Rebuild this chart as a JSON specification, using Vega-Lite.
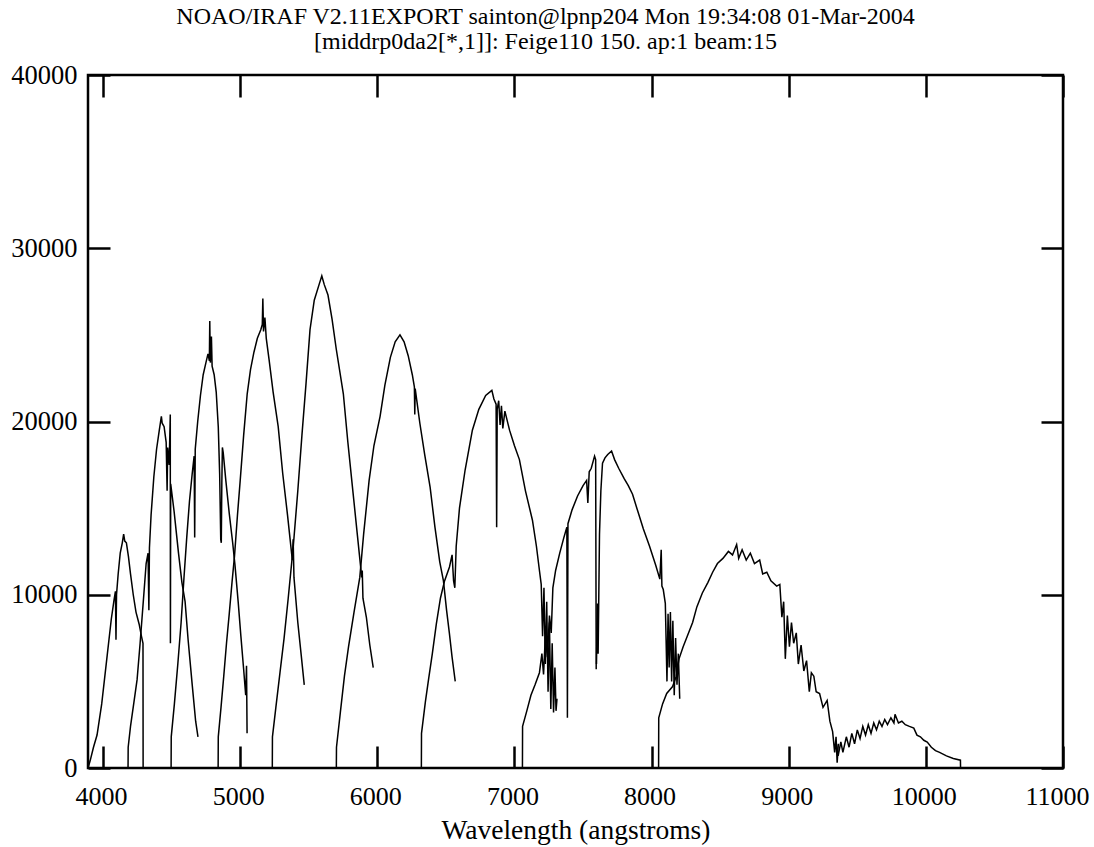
{
"$schema": "https://vega.github.io/schema/vega-lite/v6.json",
"width": 975, "height": 693,
"autosize": "none",
"padding": {"left": 88, "top": 75, "right": 31, "bottom": 79},
"background": "white",
"config": {"view": {"stroke": "black", "strokeWidth": 2.5}, "font": "Liberation Serif"},
"title": {"text": ["NOAO/IRAF V2.11EXPORT sainton@lpnp204 Mon 19:34:08 01-Mar-2004", "[middrp0da2[*,1]]: Feige110 150. ap:1 beam:15"], "font": "Liberation Serif", "fontSize": 24, "fontWeight": "normal", "lineHeight": 25, "offset": 8, "dx": -30, "color": "black"},
"datasets": {"spec": [
{"order":1,"wavelength":3890,"flux":0},{"order":1,"wavelength":3905,"flux":400},{"order":1,"wavelength":3930,"flux":1200},{"order":1,"wavelength":3956,"flux":1900},{"order":1,"wavelength":3990,"flux":3700},{"order":1,"wavelength":4030,"flux":6500},{"order":1,"wavelength":4060,"flux":8600},{"order":1,"wavelength":4080,"flux":9700},{"order":1,"wavelength":4090,"flux":10200},{"order":1,"wavelength":4094,"flux":7400},{"order":1,"wavelength":4098,"flux":10000},{"order":1,"wavelength":4110,"flux":11200},{"order":1,"wavelength":4125,"flux":12400},{"order":1,"wavelength":4140,"flux":13000},{"order":1,"wavelength":4150,"flux":13500},{"order":1,"wavelength":4158,"flux":13100},{"order":1,"wavelength":4170,"flux":13000},{"order":1,"wavelength":4185,"flux":12200},{"order":1,"wavelength":4200,"flux":11200},{"order":1,"wavelength":4220,"flux":10000},{"order":1,"wavelength":4240,"flux":9000},{"order":1,"wavelength":4263,"flux":8300},{"order":1,"wavelength":4280,"flux":7600},{"order":1,"wavelength":4291,"flux":7200},{"order":1,"wavelength":4292,"flux":0},
{"order":2,"wavelength":4182,"flux":0},{"order":2,"wavelength":4183,"flux":1200},{"order":2,"wavelength":4200,"flux":2400},{"order":2,"wavelength":4225,"flux":3800},{"order":2,"wavelength":4248,"flux":5100},{"order":2,"wavelength":4270,"flux":7200},{"order":2,"wavelength":4295,"flux":9800},{"order":2,"wavelength":4314,"flux":11800},{"order":2,"wavelength":4328,"flux":12400},{"order":2,"wavelength":4334,"flux":9100},{"order":2,"wavelength":4338,"flux":12700},{"order":2,"wavelength":4350,"flux":14600},{"order":2,"wavelength":4370,"flux":16800},{"order":2,"wavelength":4390,"flux":18400},{"order":2,"wavelength":4410,"flux":19500},{"order":2,"wavelength":4425,"flux":20300},{"order":2,"wavelength":4431,"flux":19900},{"order":2,"wavelength":4445,"flux":19700},{"order":2,"wavelength":4460,"flux":18800},{"order":2,"wavelength":4467,"flux":16000},{"order":2,"wavelength":4471,"flux":18500},{"order":2,"wavelength":4482,"flux":17500},{"order":2,"wavelength":4490,"flux":20400},{"order":2,"wavelength":4491,"flux":7200},{"order":2,"wavelength":4493,"flux":16400},{"order":2,"wavelength":4518,"flux":14800},{"order":2,"wavelength":4550,"flux":12400},{"order":2,"wavelength":4575,"flux":10700},{"order":2,"wavelength":4598,"flux":9600},{"order":2,"wavelength":4620,"flux":7400},{"order":2,"wavelength":4650,"flux":4800},{"order":2,"wavelength":4675,"flux":2700},{"order":2,"wavelength":4692,"flux":1800},
{"order":3,"wavelength":4496,"flux":0},{"order":3,"wavelength":4497,"flux":1800},{"order":3,"wavelength":4520,"flux":3700},{"order":3,"wavelength":4545,"flux":6000},{"order":3,"wavelength":4569,"flux":8400},{"order":3,"wavelength":4590,"flux":11000},{"order":3,"wavelength":4610,"flux":13300},{"order":3,"wavelength":4630,"flux":15400},{"order":3,"wavelength":4650,"flux":17000},{"order":3,"wavelength":4664,"flux":18000},{"order":3,"wavelength":4668,"flux":13300},{"order":3,"wavelength":4672,"flux":18400},{"order":3,"wavelength":4690,"flux":20000},{"order":3,"wavelength":4710,"flux":21500},{"order":3,"wavelength":4730,"flux":22700},{"order":3,"wavelength":4750,"flux":23400},{"order":3,"wavelength":4765,"flux":23900},{"order":3,"wavelength":4775,"flux":23500},{"order":3,"wavelength":4778,"flux":25800},{"order":3,"wavelength":4782,"flux":23400},{"order":3,"wavelength":4790,"flux":24900},{"order":3,"wavelength":4795,"flux":23200},{"order":3,"wavelength":4810,"flux":22700},{"order":3,"wavelength":4825,"flux":21700},{"order":3,"wavelength":4840,"flux":19700},{"order":3,"wavelength":4850,"flux":17000},{"order":3,"wavelength":4858,"flux":13200},{"order":3,"wavelength":4862,"flux":13000},{"order":3,"wavelength":4866,"flux":16500},{"order":3,"wavelength":4870,"flux":18500},{"order":3,"wavelength":4876,"flux":18200},{"order":3,"wavelength":4895,"flux":16600},{"order":3,"wavelength":4920,"flux":14700},{"order":3,"wavelength":4945,"flux":13000},{"order":3,"wavelength":4962,"flux":11700},{"order":3,"wavelength":4985,"flux":9600},{"order":3,"wavelength":5005,"flux":7600},{"order":3,"wavelength":5025,"flux":5700},{"order":3,"wavelength":5040,"flux":4200},{"order":3,"wavelength":5046,"flux":5900},{"order":3,"wavelength":5050,"flux":2000},
{"order":4,"wavelength":4839,"flux":0},{"order":4,"wavelength":4840,"flux":1800},{"order":4,"wavelength":4860,"flux":3500},{"order":4,"wavelength":4880,"flux":5300},{"order":4,"wavelength":4900,"flux":7200},{"order":4,"wavelength":4920,"flux":8900},{"order":4,"wavelength":4940,"flux":10700},{"order":4,"wavelength":4958,"flux":12200},{"order":4,"wavelength":4980,"flux":14600},{"order":4,"wavelength":5000,"flux":16600},{"order":4,"wavelength":5025,"flux":19200},{"order":4,"wavelength":5051,"flux":21600},{"order":4,"wavelength":5075,"flux":23000},{"order":4,"wavelength":5100,"flux":24000},{"order":4,"wavelength":5125,"flux":24800},{"order":4,"wavelength":5150,"flux":25300},{"order":4,"wavelength":5161,"flux":25600},{"order":4,"wavelength":5165,"flux":27100},{"order":4,"wavelength":5170,"flux":25200},{"order":4,"wavelength":5180,"flux":26000},{"order":4,"wavelength":5190,"flux":24800},{"order":4,"wavelength":5210,"flux":23600},{"order":4,"wavelength":5240,"flux":21700},{"order":4,"wavelength":5277,"flux":19700},{"order":4,"wavelength":5310,"flux":17000},{"order":4,"wavelength":5345,"flux":14600},{"order":4,"wavelength":5380,"flux":12000},{"order":4,"wavelength":5386,"flux":13200},{"order":4,"wavelength":5392,"flux":11000},{"order":4,"wavelength":5420,"flux":8400},{"order":4,"wavelength":5445,"flux":6500},{"order":4,"wavelength":5467,"flux":4800},
{"order":5,"wavelength":5234,"flux":0},{"order":5,"wavelength":5235,"flux":1800},{"order":5,"wavelength":5260,"flux":3500},{"order":5,"wavelength":5290,"flux":5500},{"order":5,"wavelength":5320,"flux":7500},{"order":5,"wavelength":5350,"flux":9800},{"order":5,"wavelength":5387,"flux":12800},{"order":5,"wavelength":5420,"flux":16000},{"order":5,"wavelength":5450,"flux":19200},{"order":5,"wavelength":5480,"flux":22200},{"order":5,"wavelength":5509,"flux":25300},{"order":5,"wavelength":5540,"flux":27000},{"order":5,"wavelength":5575,"flux":27900},{"order":5,"wavelength":5595,"flux":28400},{"order":5,"wavelength":5613,"flux":27900},{"order":5,"wavelength":5640,"flux":27300},{"order":5,"wavelength":5670,"flux":25900},{"order":5,"wavelength":5700,"flux":24200},{"order":5,"wavelength":5752,"flux":21600},{"order":5,"wavelength":5785,"flux":18800},{"order":5,"wavelength":5820,"flux":16100},{"order":5,"wavelength":5855,"flux":13400},{"order":5,"wavelength":5886,"flux":11000},{"order":5,"wavelength":5890,"flux":11400},{"order":5,"wavelength":5895,"flux":9800},{"order":5,"wavelength":5920,"flux":8700},{"order":5,"wavelength":5945,"flux":7100},{"order":5,"wavelength":5970,"flux":5800},
{"order":6,"wavelength":5701,"flux":0},{"order":6,"wavelength":5702,"flux":1200},{"order":6,"wavelength":5730,"flux":3200},{"order":6,"wavelength":5760,"flux":5300},{"order":6,"wavelength":5790,"flux":7000},{"order":6,"wavelength":5830,"flux":9000},{"order":6,"wavelength":5872,"flux":11000},{"order":6,"wavelength":5900,"flux":13500},{"order":6,"wavelength":5940,"flux":16600},{"order":6,"wavelength":5975,"flux":18600},{"order":6,"wavelength":6020,"flux":20300},{"order":6,"wavelength":6055,"flux":22100},{"order":6,"wavelength":6095,"flux":23700},{"order":6,"wavelength":6130,"flux":24600},{"order":6,"wavelength":6165,"flux":25000},{"order":6,"wavelength":6195,"flux":24600},{"order":6,"wavelength":6225,"flux":23800},{"order":6,"wavelength":6255,"flux":22700},{"order":6,"wavelength":6270,"flux":22000},{"order":6,"wavelength":6273,"flux":20400},{"order":6,"wavelength":6276,"flux":21900},{"order":6,"wavelength":6310,"flux":19900},{"order":6,"wavelength":6345,"flux":18100},{"order":6,"wavelength":6385,"flux":16200},{"order":6,"wavelength":6420,"flux":13900},{"order":6,"wavelength":6455,"flux":11900},{"order":6,"wavelength":6482,"flux":10800},{"order":6,"wavelength":6505,"flux":9100},{"order":6,"wavelength":6525,"flux":7800},{"order":6,"wavelength":6545,"flux":6400},{"order":6,"wavelength":6568,"flux":5000},
{"order":7,"wavelength":6321,"flux":0},{"order":7,"wavelength":6322,"flux":2000},{"order":7,"wavelength":6350,"flux":3800},{"order":7,"wavelength":6375,"flux":5200},{"order":7,"wavelength":6401,"flux":6600},{"order":7,"wavelength":6430,"flux":8300},{"order":7,"wavelength":6460,"flux":9800},{"order":7,"wavelength":6490,"flux":10800},{"order":7,"wavelength":6526,"flux":11600},{"order":7,"wavelength":6545,"flux":12300},{"order":7,"wavelength":6556,"flux":10800},{"order":7,"wavelength":6565,"flux":10400},{"order":7,"wavelength":6575,"flux":12800},{"order":7,"wavelength":6599,"flux":15000},{"order":7,"wavelength":6640,"flux":17200},{"order":7,"wavelength":6693,"flux":19500},{"order":7,"wavelength":6740,"flux":20700},{"order":7,"wavelength":6790,"flux":21500},{"order":7,"wavelength":6835,"flux":21800},{"order":7,"wavelength":6850,"flux":21300},{"order":7,"wavelength":6866,"flux":21000},{"order":7,"wavelength":6870,"flux":13900},{"order":7,"wavelength":6874,"flux":20700},{"order":7,"wavelength":6885,"flux":21200},{"order":7,"wavelength":6895,"flux":19800},{"order":7,"wavelength":6905,"flux":20900},{"order":7,"wavelength":6915,"flux":19600},{"order":7,"wavelength":6930,"flux":20600},{"order":7,"wavelength":6964,"flux":19500},{"order":7,"wavelength":7000,"flux":18600},{"order":7,"wavelength":7036,"flux":17800},{"order":7,"wavelength":7080,"flux":16000},{"order":7,"wavelength":7131,"flux":14300},{"order":7,"wavelength":7160,"flux":12800},{"order":7,"wavelength":7182,"flux":11400},{"order":7,"wavelength":7195,"flux":10600},{"order":7,"wavelength":7205,"flux":7600},{"order":7,"wavelength":7215,"flux":10400},{"order":7,"wavelength":7225,"flux":6000},{"order":7,"wavelength":7235,"flux":9600},{"order":7,"wavelength":7245,"flux":4400},{"order":7,"wavelength":7255,"flux":8400},{"order":7,"wavelength":7265,"flux":3400},{"order":7,"wavelength":7275,"flux":7200},{"order":7,"wavelength":7285,"flux":3200},{"order":7,"wavelength":7295,"flux":5800},{"order":7,"wavelength":7303,"flux":3300},{"order":7,"wavelength":7310,"flux":4000},
{"order":8,"wavelength":7058,"flux":0},{"order":8,"wavelength":7059,"flux":2400},{"order":8,"wavelength":7090,"flux":3300},{"order":8,"wavelength":7120,"flux":4200},{"order":8,"wavelength":7150,"flux":4800},{"order":8,"wavelength":7182,"flux":5500},{"order":8,"wavelength":7200,"flux":6600},{"order":8,"wavelength":7212,"flux":5400},{"order":8,"wavelength":7225,"flux":7600},{"order":8,"wavelength":7240,"flux":6400},{"order":8,"wavelength":7255,"flux":8800},{"order":8,"wavelength":7268,"flux":7800},{"order":8,"wavelength":7280,"flux":10400},{"order":8,"wavelength":7300,"flux":11400},{"order":8,"wavelength":7330,"flux":12400},{"order":8,"wavelength":7360,"flux":13300},{"order":8,"wavelength":7382,"flux":13900},{"order":8,"wavelength":7386,"flux":2900},{"order":8,"wavelength":7390,"flux":14100},{"order":8,"wavelength":7420,"flux":14900},{"order":8,"wavelength":7460,"flux":15700},{"order":8,"wavelength":7500,"flux":16300},{"order":8,"wavelength":7526,"flux":16600},{"order":8,"wavelength":7535,"flux":15300},{"order":8,"wavelength":7545,"flux":17100},{"order":8,"wavelength":7560,"flux":17300},{"order":8,"wavelength":7584,"flux":18000},{"order":8,"wavelength":7592,"flux":17800},{"order":8,"wavelength":7596,"flux":5700},
{"order":9,"wavelength":7598,"flux":6000},{"order":9,"wavelength":7604,"flux":9500},{"order":9,"wavelength":7610,"flux":6600},{"order":9,"wavelength":7620,"flux":13500},{"order":9,"wavelength":7630,"flux":16000},{"order":9,"wavelength":7642,"flux":17600},{"order":9,"wavelength":7660,"flux":17900},{"order":9,"wavelength":7680,"flux":18100},{"order":9,"wavelength":7708,"flux":18300},{"order":9,"wavelength":7730,"flux":17800},{"order":9,"wavelength":7760,"flux":17300},{"order":9,"wavelength":7800,"flux":16700},{"order":9,"wavelength":7830,"flux":16300},{"order":9,"wavelength":7861,"flux":15800},{"order":9,"wavelength":7900,"flux":14800},{"order":9,"wavelength":7940,"flux":13800},{"order":9,"wavelength":7985,"flux":12800},{"order":9,"wavelength":8030,"flux":11700},{"order":9,"wavelength":8060,"flux":10900},{"order":9,"wavelength":8070,"flux":12600},{"order":9,"wavelength":8075,"flux":10500},{"order":9,"wavelength":8085,"flux":10300},{"order":9,"wavelength":8100,"flux":9500},{"order":9,"wavelength":8112,"flux":5000},{"order":9,"wavelength":8120,"flux":8900},{"order":9,"wavelength":8128,"flux":5800},{"order":9,"wavelength":8137,"flux":9000},{"order":9,"wavelength":8146,"flux":5000},{"order":9,"wavelength":8155,"flux":8500},{"order":9,"wavelength":8165,"flux":4200},{"order":9,"wavelength":8175,"flux":7500},{"order":9,"wavelength":8185,"flux":4800},{"order":9,"wavelength":8195,"flux":6600},{"order":9,"wavelength":8205,"flux":4000},
{"order":10,"wavelength":8051,"flux":0},{"order":10,"wavelength":8052,"flux":2900},{"order":10,"wavelength":8080,"flux":3700},{"order":10,"wavelength":8110,"flux":4300},{"order":10,"wavelength":8153,"flux":4700},{"order":10,"wavelength":8180,"flux":5300},{"order":10,"wavelength":8200,"flux":6300},{"order":10,"wavelength":8230,"flux":7000},{"order":10,"wavelength":8260,"flux":7600},{"order":10,"wavelength":8299,"flux":8400},{"order":10,"wavelength":8330,"flux":9300},{"order":10,"wavelength":8370,"flux":10100},{"order":10,"wavelength":8410,"flux":10700},{"order":10,"wavelength":8445,"flux":11300},{"order":10,"wavelength":8480,"flux":11800},{"order":10,"wavelength":8520,"flux":12100},{"order":10,"wavelength":8560,"flux":12500},{"order":10,"wavelength":8590,"flux":12300},{"order":10,"wavelength":8620,"flux":12900},{"order":10,"wavelength":8635,"flux":12100},{"order":10,"wavelength":8660,"flux":12600},{"order":10,"wavelength":8690,"flux":12000},{"order":10,"wavelength":8720,"flux":12400},{"order":10,"wavelength":8750,"flux":11800},{"order":10,"wavelength":8788,"flux":12000},{"order":10,"wavelength":8810,"flux":11200},{"order":10,"wavelength":8840,"flux":11300},{"order":10,"wavelength":8870,"flux":10800},{"order":10,"wavelength":8912,"flux":10500},{"order":10,"wavelength":8935,"flux":10600},{"order":10,"wavelength":8950,"flux":8700},{"order":10,"wavelength":8963,"flux":9600},{"order":10,"wavelength":8975,"flux":6300},{"order":10,"wavelength":8990,"flux":8800},{"order":10,"wavelength":9005,"flux":7000},{"order":10,"wavelength":9020,"flux":8400},{"order":10,"wavelength":9036,"flux":7200},{"order":10,"wavelength":9055,"flux":7800},{"order":10,"wavelength":9070,"flux":6000},{"order":10,"wavelength":9090,"flux":7100},{"order":10,"wavelength":9110,"flux":5600},{"order":10,"wavelength":9130,"flux":6200},{"order":10,"wavelength":9150,"flux":4400},{"order":10,"wavelength":9165,"flux":5500},{"order":10,"wavelength":9183,"flux":5300},{"order":10,"wavelength":9200,"flux":4400},{"order":10,"wavelength":9225,"flux":4300},{"order":10,"wavelength":9250,"flux":3500},{"order":10,"wavelength":9280,"flux":3900},{"order":10,"wavelength":9300,"flux":2700},{"order":10,"wavelength":9320,"flux":2100},{"order":10,"wavelength":9335,"flux":900},{"order":10,"wavelength":9345,"flux":1800},{"order":10,"wavelength":9353,"flux":300},{"order":10,"wavelength":9362,"flux":1400},
{"order":11,"wavelength":9345,"flux":1500},{"order":11,"wavelength":9360,"flux":700},{"order":11,"wavelength":9380,"flux":1500},{"order":11,"wavelength":9395,"flux":900},{"order":11,"wavelength":9420,"flux":1800},{"order":11,"wavelength":9440,"flux":1200},{"order":11,"wavelength":9460,"flux":2000},{"order":11,"wavelength":9480,"flux":1400},{"order":11,"wavelength":9500,"flux":2200},{"order":11,"wavelength":9520,"flux":1700},{"order":11,"wavelength":9540,"flux":2400},{"order":11,"wavelength":9560,"flux":1900},{"order":11,"wavelength":9580,"flux":2500},{"order":11,"wavelength":9600,"flux":2000},{"order":11,"wavelength":9620,"flux":2600},{"order":11,"wavelength":9640,"flux":2200},{"order":11,"wavelength":9660,"flux":2700},{"order":11,"wavelength":9680,"flux":2400},{"order":11,"wavelength":9700,"flux":2800},{"order":11,"wavelength":9720,"flux":2500},{"order":11,"wavelength":9745,"flux":2900},{"order":11,"wavelength":9767,"flux":2600},{"order":11,"wavelength":9775,"flux":3100},{"order":11,"wavelength":9800,"flux":2600},{"order":11,"wavelength":9825,"flux":2700},{"order":11,"wavelength":9850,"flux":2500},{"order":11,"wavelength":9880,"flux":2400},{"order":11,"wavelength":9912,"flux":2300},{"order":11,"wavelength":9935,"flux":1900},{"order":11,"wavelength":9960,"flux":1800},{"order":11,"wavelength":9985,"flux":1600},{"order":11,"wavelength":10010,"flux":1500},{"order":11,"wavelength":10040,"flux":1200},{"order":11,"wavelength":10070,"flux":1000},{"order":11,"wavelength":10100,"flux":900},{"order":11,"wavelength":10150,"flux":700},{"order":11,"wavelength":10200,"flux":550},{"order":11,"wavelength":10252,"flux":450},{"order":11,"wavelength":10253,"flux":0}
]},
"data": {"name": "spec"},
"layer": [
{"mark": {"type": "line", "color": "black", "strokeWidth": 1.5, "clip": true},
 "encoding": {
  "x": {"field": "wavelength", "type": "quantitative", "scale": {"domain": [3890, 11000], "nice": false, "zero": false},
   "axis": {"values": [4000,5000,6000,7000,8000,9000,10000,11000], "format": "d", "title": "Wavelength (angstroms)", "grid": false, "domain": false, "tickSize": -22, "tickWidth": 2.5, "tickColor": "black", "labelFont": "Liberation Serif", "labelFontSize": 26, "labelColor": "black", "labelPadding": 37, "labelFlush": false, "labelOffset": {"condition": {"test": "datum.value == 11000", "value": -6}, "value": -2}, "titleFont": "Liberation Serif", "titleFontSize": 27.5, "titleFontWeight": "normal", "titleColor": "black", "titlePadding": 7}},
  "y": {"field": "flux", "type": "quantitative", "scale": {"domain": [0, 40000], "nice": false},
   "axis": {"values": [0,10000,20000,30000,40000], "format": "d", "title": null, "grid": false, "domain": false, "tickSize": -22, "tickWidth": 2.5, "tickColor": "black", "labelFont": "Liberation Serif", "labelFontSize": 26.5, "labelColor": "black", "labelPadding": 33, "labelFlush": false}},
  "detail": {"field": "order", "type": "nominal"}
 }},
{"mark": {"type": "point", "opacity": 0},
 "encoding": {
  "x": {"field": "wavelength", "type": "quantitative", "scale": {"domain": [3890, 11000], "nice": false, "zero": false},
   "axis": {"orient": "top", "values": [4000,5000,6000,7000,8000,9000,10000,11000], "labels": false, "title": null, "grid": false, "domain": false, "tickSize": -22, "tickWidth": 2.5, "tickColor": "black"}},
  "y": {"field": "flux", "type": "quantitative", "scale": {"domain": [0, 40000], "nice": false},
   "axis": {"orient": "right", "values": [0,10000,20000,30000,40000], "labels": false, "title": null, "grid": false, "domain": false, "tickSize": -22, "tickWidth": 2.5, "tickColor": "black"}}
 }}
],
"resolve": {"axis": {"x": "independent", "y": "independent"}}
}
